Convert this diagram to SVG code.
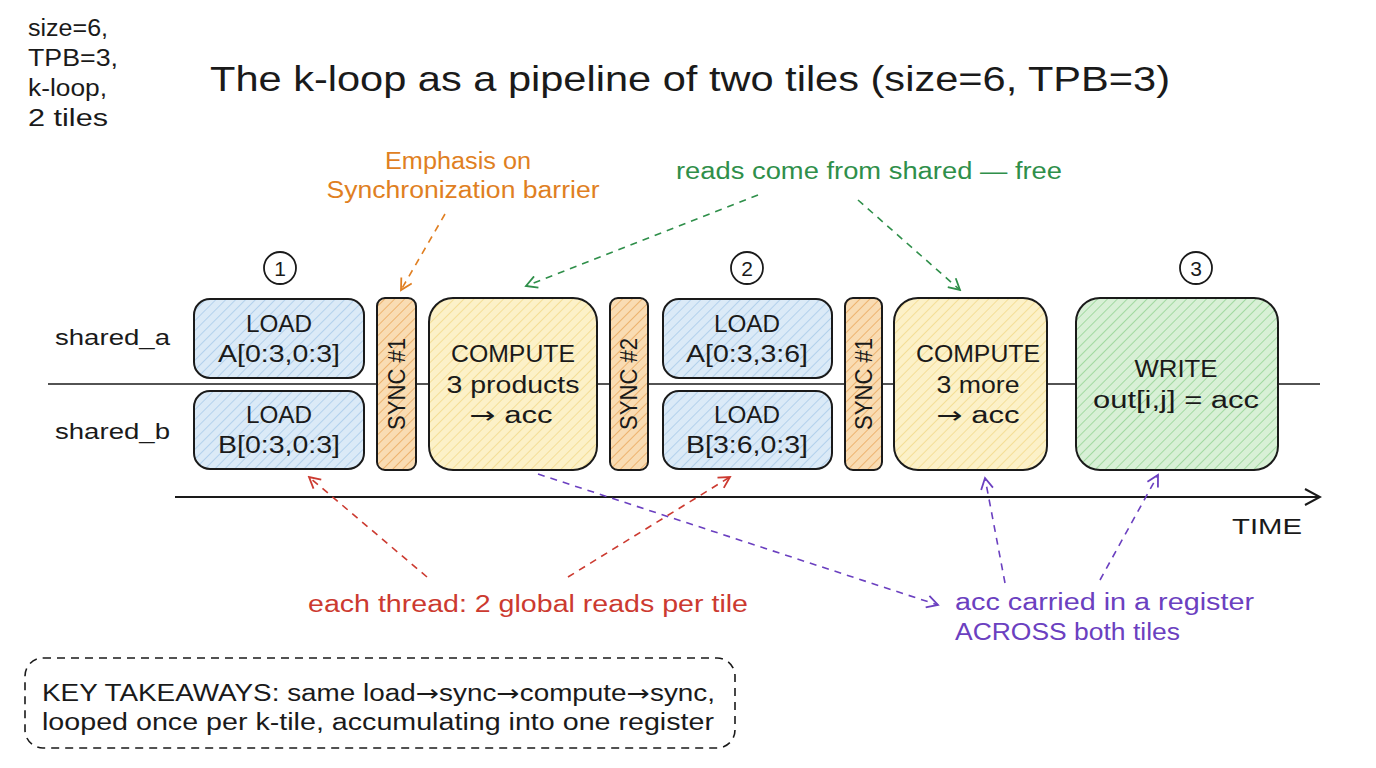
<svg xmlns="http://www.w3.org/2000/svg" width="1376" height="768" viewBox="0 0 1376 768">
<style>
text{font-family:"Liberation Sans","Open Sans",sans-serif;fill:#1a1a1a}
.t{font-size:23px;text-anchor:middle}
.lbl{font-size:22px}
.ar{font-family:"DejaVu Sans",sans-serif}
.box{stroke:#1a1a1a;stroke-width:2}
.blue{fill:url(#hb)}.yel{fill:url(#hy)}.org{fill:url(#ho)}.grn{fill:url(#hg)}
.ann{font-size:23px;text-anchor:middle}
.dash{fill:none;stroke-width:1.6;stroke-dasharray:7 6}
</style>
<defs>
<pattern id="hb" width="7" height="7" patternUnits="userSpaceOnUse" patternTransform="rotate(45)"><rect width="7" height="7" fill="#dbeaf7"/><line x1="0" y1="0" x2="0" y2="7" stroke="#a9cbea" stroke-width="1.6"/></pattern>
<pattern id="hy" width="7" height="7" patternUnits="userSpaceOnUse" patternTransform="rotate(45)"><rect width="7" height="7" fill="#fcf1c8"/><line x1="0" y1="0" x2="0" y2="7" stroke="#f2d98a" stroke-width="1.6"/></pattern>
<pattern id="ho" width="7" height="7" patternUnits="userSpaceOnUse" patternTransform="rotate(45)"><rect width="7" height="7" fill="#f9dcb3"/><line x1="0" y1="0" x2="0" y2="7" stroke="#eaa95e" stroke-width="1.6"/></pattern>
<pattern id="hg" width="7" height="7" patternUnits="userSpaceOnUse" patternTransform="rotate(45)"><rect width="7" height="7" fill="#d8f0d6"/><line x1="0" y1="0" x2="0" y2="7" stroke="#94d394" stroke-width="1.6"/></pattern>
<marker id="aO" markerWidth="14" markerHeight="14" refX="12" refY="7" orient="auto" markerUnits="userSpaceOnUse"><path d="M1,1 L12,7 L1,13" fill="none" stroke="#e07f22" stroke-width="1.8"/></marker>
<marker id="aG" markerWidth="14" markerHeight="14" refX="12" refY="7" orient="auto" markerUnits="userSpaceOnUse"><path d="M1,1 L12,7 L1,13" fill="none" stroke="#2f8f4a" stroke-width="1.8"/></marker>
<marker id="aR" markerWidth="14" markerHeight="14" refX="12" refY="7" orient="auto" markerUnits="userSpaceOnUse"><path d="M1,1 L12,7 L1,13" fill="none" stroke="#cc3a30" stroke-width="1.8"/></marker>
<marker id="aP" markerWidth="14" markerHeight="14" refX="12" refY="7" orient="auto" markerUnits="userSpaceOnUse"><path d="M1,1 L12,7 L1,13" fill="none" stroke="#6b40c0" stroke-width="1.8"/></marker>
<marker id="aK" markerWidth="18" markerHeight="18" refX="16" refY="9" orient="auto" markerUnits="userSpaceOnUse"><path d="M1,1 L16,9 L1,17" fill="none" stroke="#1a1a1a" stroke-width="2"/></marker>
</defs>

<g id="header">
<text x="28" y="36" font-size="23" textLength="80" lengthAdjust="spacingAndGlyphs">size=6,</text>
<text x="28" y="66" font-size="23" textLength="90" lengthAdjust="spacingAndGlyphs">TPB=3,</text>
<text x="28" y="96" font-size="23" textLength="79" lengthAdjust="spacingAndGlyphs">k-loop,</text>
<text x="28" y="126" font-size="23" textLength="80" lengthAdjust="spacingAndGlyphs">2 tiles</text>
<text x="210" y="91" font-size="35" textLength="960" lengthAdjust="spacingAndGlyphs">The k-loop as a pipeline of two tiles (size=6, TPB=3)</text>
</g>

<g id="lanes">
<line x1="48" y1="384" x2="1320" y2="384" stroke="#1a1a1a" stroke-width="1.5"/>
<text class="lbl" x="55" y="345" textLength="115" lengthAdjust="spacingAndGlyphs">shared_a</text>
<text class="lbl" x="55" y="439" textLength="115" lengthAdjust="spacingAndGlyphs">shared_b</text>
</g>

<g id="steps">
<circle cx="280" cy="268" r="16" fill="none" stroke="#1a1a1a" stroke-width="1.8"/><text x="280" y="276" font-size="21" text-anchor="middle">1</text>
<circle cx="747" cy="268" r="16" fill="none" stroke="#1a1a1a" stroke-width="1.8"/><text x="747" y="276" font-size="21" text-anchor="middle">2</text>
<circle cx="1196" cy="268" r="16" fill="none" stroke="#1a1a1a" stroke-width="1.8"/><text x="1196" y="276" font-size="21" text-anchor="middle">3</text>
</g>

<g id="loadA1"><rect class="box blue" x="194" y="299" width="170" height="79" rx="16"/><text class="t" x="279" y="332" textLength="66" lengthAdjust="spacingAndGlyphs">LOAD</text><text class="t" x="279" y="362" textLength="122" lengthAdjust="spacingAndGlyphs">A[0:3,0:3]</text></g>
<g id="loadB1"><rect class="box blue" x="194" y="391" width="170" height="78" rx="16"/><text class="t" x="279" y="423" textLength="66" lengthAdjust="spacingAndGlyphs">LOAD</text><text class="t" x="279" y="453" textLength="122" lengthAdjust="spacingAndGlyphs">B[0:3,0:3]</text></g>
<g id="sync1"><rect class="box org" x="377" y="298" width="39" height="172" rx="8"/><text class="t" transform="translate(405,384) rotate(-90)" x="0" y="0" textLength="92" lengthAdjust="spacingAndGlyphs">SYNC #1</text></g>
<g id="compute1"><rect class="box yel" x="429" y="298" width="168" height="172" rx="24"/><text class="t" x="513" y="362" textLength="124" lengthAdjust="spacingAndGlyphs">COMPUTE</text><text class="t" x="513" y="393" textLength="133" lengthAdjust="spacingAndGlyphs">3 products</text><text class="t" x="511" y="423" textLength="83" lengthAdjust="spacingAndGlyphs"><tspan class="ar">→</tspan> acc</text></g>
<g id="sync2"><rect class="box org" x="610" y="298" width="38" height="172" rx="8"/><text class="t" transform="translate(637,384) rotate(-90)" x="0" y="0" textLength="92" lengthAdjust="spacingAndGlyphs">SYNC #2</text></g>
<g id="loadA2"><rect class="box blue" x="663" y="299" width="169" height="79" rx="16"/><text class="t" x="747" y="332" textLength="66" lengthAdjust="spacingAndGlyphs">LOAD</text><text class="t" x="747" y="362" textLength="122" lengthAdjust="spacingAndGlyphs">A[0:3,3:6]</text></g>
<g id="loadB2"><rect class="box blue" x="663" y="391" width="169" height="78" rx="16"/><text class="t" x="747" y="423" textLength="66" lengthAdjust="spacingAndGlyphs">LOAD</text><text class="t" x="747" y="453" textLength="122" lengthAdjust="spacingAndGlyphs">B[3:6,0:3]</text></g>
<g id="sync3"><rect class="box org" x="845" y="298" width="37" height="172" rx="8"/><text class="t" transform="translate(872,384) rotate(-90)" x="0" y="0" textLength="92" lengthAdjust="spacingAndGlyphs">SYNC #1</text></g>
<g id="compute2"><rect class="box yel" x="894" y="298" width="153" height="172" rx="24"/><text class="t" x="978" y="362" textLength="124" lengthAdjust="spacingAndGlyphs">COMPUTE</text><text class="t" x="978" y="393" textLength="83" lengthAdjust="spacingAndGlyphs">3 more</text><text class="t" x="978" y="423" textLength="83" lengthAdjust="spacingAndGlyphs"><tspan class="ar">→</tspan> acc</text></g>
<g id="write"><rect class="box grn" x="1076" y="298" width="202" height="172" rx="24"/><text class="t" x="1176" y="377" textLength="83" lengthAdjust="spacingAndGlyphs">WRITE</text><text class="t" x="1176" y="408" textLength="166" lengthAdjust="spacingAndGlyphs">out[i,j] = acc</text></g>

<g id="time">
<line x1="175" y1="497" x2="1320" y2="497" stroke="#1a1a1a" stroke-width="2.2" marker-end="url(#aK)"/>
<text x="1232" y="534" font-size="22" textLength="70" lengthAdjust="spacingAndGlyphs">TIME</text>
</g>

<g id="annotations">
<text class="ann" x="458" y="169" style="fill:#e07f22" textLength="146" lengthAdjust="spacingAndGlyphs">Emphasis on</text>
<text class="ann" x="463" y="198" style="fill:#e07f22" textLength="273" lengthAdjust="spacingAndGlyphs">Synchronization barrier</text>
<text class="ann" x="869" y="179" style="fill:#2f8f4a" textLength="386" lengthAdjust="spacingAndGlyphs">reads come from shared — free</text>
<text class="ann" x="528" y="612" style="fill:#cc3a30" textLength="440" lengthAdjust="spacingAndGlyphs">each thread: 2 global reads per tile</text>
<text x="955" y="610" font-size="23" style="fill:#6b40c0" textLength="299" lengthAdjust="spacingAndGlyphs">acc carried in a register</text>
<text x="955" y="640" font-size="23" style="fill:#6b40c0" textLength="225" lengthAdjust="spacingAndGlyphs">ACROSS both tiles</text>
</g>

<g id="connectors">
<path class="dash" d="M445,214 L401,290" stroke="#e07f22" marker-end="url(#aO)"/>
<path class="dash" d="M758,195 L526,286" stroke="#2f8f4a" marker-end="url(#aG)"/>
<path class="dash" d="M858,200 L960,290" stroke="#2f8f4a" marker-end="url(#aG)"/>
<path class="dash" d="M427,577 L309,477" stroke="#cc3a30" marker-end="url(#aR)"/>
<path class="dash" d="M568,577 L730,477" stroke="#cc3a30" marker-end="url(#aR)"/>
<path class="dash" d="M538,474 L938,605" stroke="#6b40c0" marker-end="url(#aP)"/>
<path class="dash" d="M1005,583 L985,478" stroke="#6b40c0" marker-end="url(#aP)"/>
<path class="dash" d="M1100,580 L1158,475" stroke="#6b40c0" marker-end="url(#aP)"/>
</g>

<g id="takeaways">
<rect x="25" y="658" width="710" height="90" rx="18" fill="none" stroke="#1a1a1a" stroke-width="1.6" stroke-dasharray="8 6"/>
<text x="42" y="701" font-size="23" textLength="673" lengthAdjust="spacingAndGlyphs">KEY TAKEAWAYS: same load<tspan class="ar">→</tspan>sync<tspan class="ar">→</tspan>compute<tspan class="ar">→</tspan>sync,</text>
<text x="42" y="730" font-size="23" textLength="672" lengthAdjust="spacingAndGlyphs">looped once per k-tile, accumulating into one register</text>
</g>
</svg>
